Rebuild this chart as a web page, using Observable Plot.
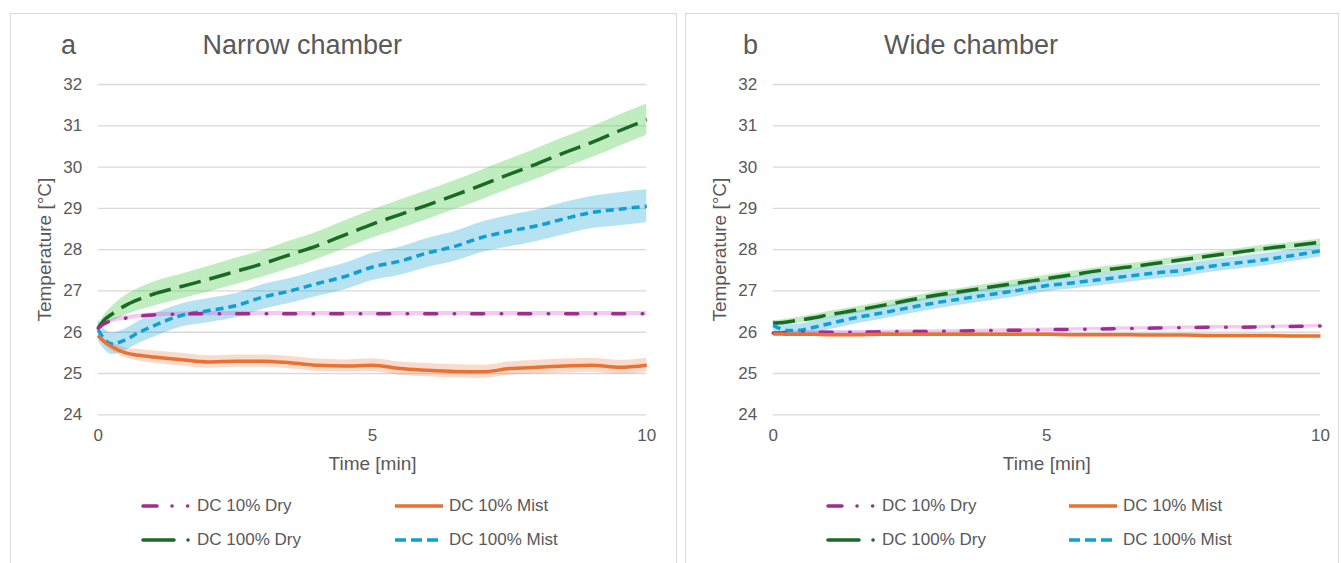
<!DOCTYPE html>
<html><head><meta charset="utf-8">
<script src="https://cdn.jsdelivr.net/npm/d3@7"></script>
<script src="https://cdn.jsdelivr.net/npm/@observablehq/plot@0.6"></script>
<style>
body{margin:0;width:1341px;height:563px;overflow:hidden;background:#fff;font-family:"Liberation Sans",Arial,sans-serif;position:relative}
.panel{position:absolute;border:1.5px solid #d9d9d9;box-sizing:border-box}
.t{position:absolute;color:#595959;font-size:27px;line-height:27px;white-space:nowrap}
.plot{position:absolute;top:60px}
.leg{position:absolute;height:20px;display:flex;align-items:center;font-size:17px;color:#595959;white-space:nowrap}
.leg svg{margin-right:4px}
</style></head><body>
<script>
// ---- data ----
const time = [0, 0.1, 0.25, 0.5, 0.75, 1, 1.5, 2, 2.5, 3, 3.5, 4, 4.5, 5, 5.5, 6, 6.5, 7, 7.5, 8, 8.5, 9, 9.5, 10];
const seriesNames = ["DC 10% Dry", "DC 10% Mist", "DC 100% Dry", "DC 100% Mist"];
const yTicks = [24, 25, 26, 27, 28, 29, 30, 31, 32];
const xTicks = [0, 5, 10];
const panelTitles = ["Narrow chamber", "Wide chamber"];
const panelLetters = ["a", "b"];

// Narrow chamber (a)
const narrowDry10 = [26.10, 26.20, 26.28, 26.34, 26.39, 26.42, 26.44, 26.45, 26.45, 26.45, 26.45, 26.45, 26.45, 26.45, 26.45, 26.45, 26.45, 26.45, 26.45, 26.45, 26.45, 26.45, 26.45, 26.45];
const narrowDry10Sd = [0.03, 0.04, 0.05, 0.05, 0.05, 0.05, 0.05, 0.05, 0.05, 0.05, 0.05, 0.05, 0.05, 0.05, 0.05, 0.05, 0.05, 0.05, 0.05, 0.05, 0.05, 0.05, 0.05, 0.05];
const narrowMist10 = [25.92, 25.78, 25.65, 25.50, 25.44, 25.40, 25.34, 25.28, 25.30, 25.30, 25.26, 25.20, 25.18, 25.20, 25.12, 25.08, 25.05, 25.04, 25.12, 25.15, 25.18, 25.20, 25.15, 25.20];
const narrowMist10Sd = [0.04, 0.07, 0.10, 0.12, 0.14, 0.15, 0.15, 0.15, 0.15, 0.15, 0.15, 0.15, 0.15, 0.16, 0.16, 0.16, 0.16, 0.16, 0.16, 0.17, 0.17, 0.17, 0.17, 0.17];
const narrowDry100 = [26.10, 26.28, 26.44, 26.65, 26.80, 26.92, 27.10, 27.28, 27.47, 27.66, 27.88, 28.10, 28.36, 28.62, 28.85, 29.08, 29.32, 29.57, 29.83, 30.08, 30.35, 30.60, 30.88, 31.15];
const narrowDry100Sd = [0.08, 0.12, 0.18, 0.24, 0.27, 0.29, 0.30, 0.31, 0.32, 0.32, 0.33, 0.33, 0.34, 0.34, 0.35, 0.35, 0.35, 0.36, 0.36, 0.37, 0.37, 0.37, 0.38, 0.38];
const narrowMist100 = [26.05, 25.85, 25.72, 25.82, 26.00, 26.15, 26.40, 26.52, 26.64, 26.85, 27.00, 27.18, 27.35, 27.58, 27.72, 27.92, 28.08, 28.30, 28.45, 28.58, 28.75, 28.90, 28.98, 29.05];
const narrowMist100Sd = [0.25, 0.25, 0.26, 0.26, 0.27, 0.28, 0.28, 0.29, 0.29, 0.30, 0.30, 0.31, 0.32, 0.33, 0.34, 0.35, 0.36, 0.37, 0.38, 0.38, 0.39, 0.39, 0.40, 0.40];

// Wide chamber (b)
const wideDry10 = [25.98, 25.98, 25.99, 26.00, 26.00, 26.00, 26.00, 26.01, 26.02, 26.02, 26.03, 26.04, 26.05, 26.06, 26.07, 26.08, 26.09, 26.10, 26.11, 26.12, 26.12, 26.13, 26.14, 26.15];
const wideDry10Sd = [0.04, 0.04, 0.04, 0.04, 0.04, 0.04, 0.04, 0.04, 0.04, 0.04, 0.04, 0.04, 0.04, 0.04, 0.04, 0.04, 0.04, 0.04, 0.04, 0.04, 0.04, 0.04, 0.04, 0.04];
const wideMist10 = [25.96, 25.96, 25.95, 25.95, 25.95, 25.94, 25.94, 25.95, 25.95, 25.95, 25.95, 25.95, 25.95, 25.95, 25.94, 25.94, 25.94, 25.93, 25.93, 25.92, 25.92, 25.92, 25.91, 25.91];
const wideMist10Sd = [0.03, 0.03, 0.03, 0.03, 0.03, 0.03, 0.03, 0.03, 0.03, 0.03, 0.03, 0.03, 0.03, 0.03, 0.03, 0.03, 0.03, 0.03, 0.03, 0.03, 0.03, 0.03, 0.03, 0.03];
const wideDry100 = [26.22, 26.23, 26.25, 26.30, 26.35, 26.42, 26.53, 26.65, 26.78, 26.90, 27.00, 27.10, 27.20, 27.30, 27.40, 27.50, 27.58, 27.67, 27.76, 27.85, 27.94, 28.03, 28.10, 28.18];
const wideDry100Sd = [0.06, 0.06, 0.07, 0.07, 0.08, 0.08, 0.08, 0.08, 0.08, 0.08, 0.08, 0.08, 0.08, 0.08, 0.08, 0.08, 0.08, 0.08, 0.08, 0.08, 0.08, 0.08, 0.08, 0.08];
const wideMist100 = [26.17, 26.10, 26.04, 26.05, 26.12, 26.20, 26.35, 26.47, 26.60, 26.72, 26.82, 26.92, 27.02, 27.13, 27.20, 27.28, 27.36, 27.44, 27.50, 27.60, 27.68, 27.76, 27.86, 27.97];
const wideMist100Sd = [0.12, 0.13, 0.14, 0.15, 0.15, 0.15, 0.15, 0.15, 0.15, 0.15, 0.15, 0.15, 0.15, 0.15, 0.15, 0.15, 0.15, 0.15, 0.15, 0.15, 0.15, 0.15, 0.15, 0.15];

// ---- styles ----
const FONT = '"Liberation Sans", Arial, sans-serif';
const styles = {
  "DC 10% Dry":   {stroke: "#A02B93", band: "#d94fd0", bandOpacity: 0.3, dash: "12 17.5 0.5 17", cap: "round", legDash: "14 15 0.1 15.5 0.1 100", legCap: "round"},
  "DC 10% Mist":  {stroke: "#E97132", band: "#E97132", bandOpacity: 0.25, dash: null, cap: "butt", legDash: null, legCap: "butt"},
  "DC 100% Dry":  {stroke: "#196B24", band: "#5fd35f", bandOpacity: 0.4, dash: "22 9", cap: "butt", legDash: "31 14 0.1 100", legCap: "round"},
  "DC 100% Mist": {stroke: "#0F9ED5", band: "#0F9ED5", bandOpacity: 0.3, dash: "8 5", cap: "butt", legDash: "11 5", legCap: "butt"}
};

function buildRows(vals, sds) {
  const rows = [];
  seriesNames.forEach((s, k) => {
    time.forEach((t, i) => rows.push({s, t, v: vals[k][i], lo: vals[k][i] - sds[k][i], hi: vals[k][i] + sds[k][i]}));
  });
  return rows;
}

const panels = [
  {rows: buildRows([narrowDry10, narrowMist10, narrowDry100, narrowMist100],
                   [narrowDry10Sd, narrowMist10Sd, narrowDry100Sd, narrowMist100Sd]),
   left: 0, width: 681, marginLeft: 97.7, marginRight: 34.7,
   box: [10, 13, 667], letterX: 61, titleX: 202.5, legX: [143, 395]},
  {rows: buildRows([wideDry10, wideMist10, wideDry100, wideMist100],
                   [wideDry10Sd, wideMist10Sd, wideDry100Sd, wideMist100Sd]),
   left: 681, width: 660, marginLeft: 91.7, marginRight: 21,
   box: [685, 13, 654], letterX: 743, titleX: 884, legX: [828, 1069]}
];

const drawOrder = ["DC 100% Dry", "DC 100% Mist", "DC 10% Dry", "DC 10% Mist"];

panels.forEach((p, pi) => {
  const box = document.createElement("div");
  box.className = "panel";
  Object.assign(box.style, {left: p.box[0] + "px", top: p.box[1] + "px", width: p.box[2] + "px", height: "600px"});
  document.body.appendChild(box);

  const letter = document.createElement("div");
  letter.className = "t"; letter.textContent = panelLetters[pi];
  Object.assign(letter.style, {left: p.letterX + "px", top: "32px"});
  document.body.appendChild(letter);
  const title = document.createElement("div");
  title.className = "t"; title.textContent = panelTitles[pi];
  Object.assign(title.style, {left: p.titleX + "px", top: "32px"});
  document.body.appendChild(title);

  const bands = drawOrder.map(s => Plot.areaY(p.rows.filter(d => d.s === s), {
    x: "t", y1: "lo", y2: "hi", fill: styles[s].band, fillOpacity: styles[s].bandOpacity, curve: "monotone-x"
  }));
  const lines = drawOrder.map(s => Plot.lineY(p.rows.filter(d => d.s === s), {
    x: "t", y: "v", stroke: styles[s].stroke, strokeWidth: 3.5,
    strokeDasharray: styles[s].dash || undefined, strokeLinecap: styles[s].cap, curve: "monotone-x"
  }));

  const svg = Plot.plot({
    width: p.width, height: 430,
    marginTop: 24, marginBottom: 75.7, marginLeft: p.marginLeft, marginRight: p.marginRight,
    x: {domain: [0, 10]},
    y: {domain: [24, 32]},
    style: {fontFamily: FONT, color: "#595959", background: "transparent", overflow: "visible"},
    marks: [
      Plot.gridY(yTicks, {stroke: "#d9d9d9", strokeOpacity: 1, strokeWidth: 1.3}),
      ...bands,
      ...lines,
      Plot.axisY(yTicks, {tickSize: 0, tickPadding: 16, fontSize: 17, label: null}),
      Plot.axisX(xTicks, {tickSize: 0, tickPadding: 14, fontSize: 17, label: null}),
      Plot.text(["Temperature [°C]"], {text: d => d, frameAnchor: "left", textAnchor: "middle", lineAnchor: "middle", rotate: -90, dx: -53, fontSize: 19, fill: "#595959"}),
      Plot.text(["Time [min]"], {text: d => d, frameAnchor: "bottom", textAnchor: "middle", lineAnchor: "middle", dy: 48.7, fontSize: 19, fill: "#595959"})
    ]
  });
  svg.classList.add("plot");
  svg.style.left = p.left + "px";
  document.body.appendChild(svg);

  // legend
  const legOrder = [["DC 10% Dry", 0, 496], ["DC 10% Mist", 1, 496], ["DC 100% Dry", 0, 530], ["DC 100% Mist", 1, 530]];
  legOrder.forEach(([s, col, top]) => {
    const st = styles[s];
    const item = document.createElement("div");
    item.className = "leg";
    Object.assign(item.style, {left: (p.legX[col] - 2) + "px", top: top + "px"});
    const dash = st.legDash ? `stroke-dasharray="${st.legDash}"` : "";
    item.innerHTML = `<svg width="52" height="10"><line x1="2" x2="50" y1="5" y2="5" stroke="${st.stroke}" stroke-width="3.5" stroke-linecap="${st.legCap}" ${dash}/></svg><span>${s}</span>`;
    document.body.appendChild(item);
  });
});
</script>
</body></html>
